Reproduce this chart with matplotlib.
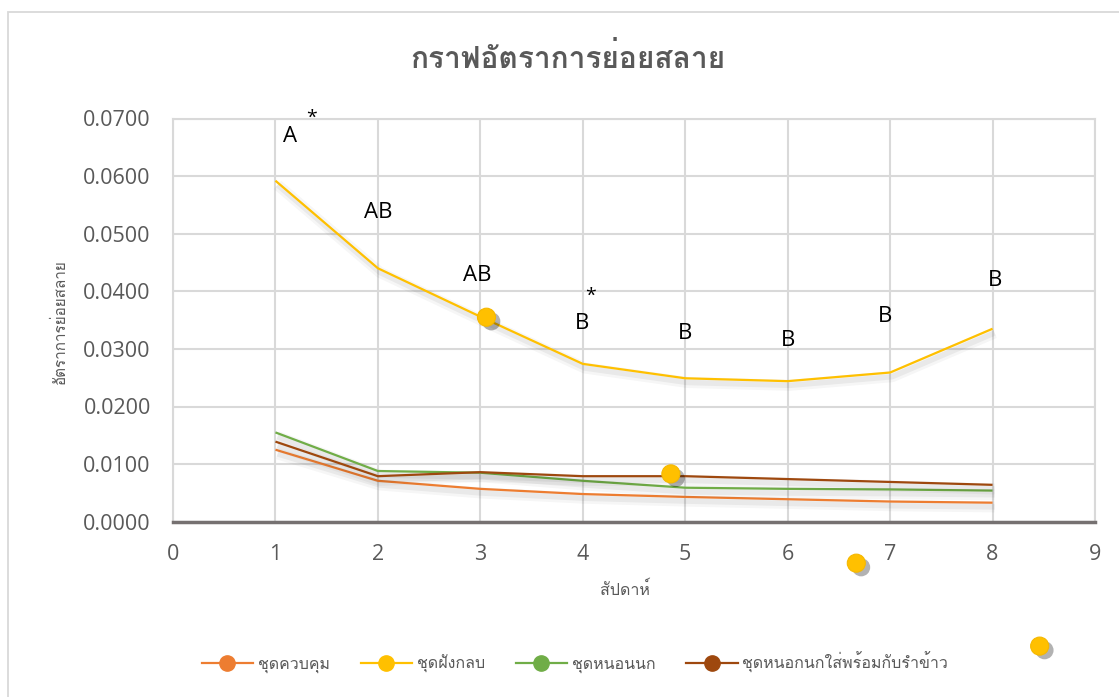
import matplotlib
matplotlib.use("Agg")
import matplotlib.pyplot as plt
import matplotlib.patheffects as pe
from matplotlib import font_manager
from matplotlib.ft2font import FT2Font
from matplotlib.lines import Line2D
from matplotlib.patches import Rectangle


def find_thai_font():
    """Return the family name of an installed font that covers Thai."""
    preferred = []
    others = []
    for f in font_manager.fontManager.ttflist:
        try:
            cmap = FT2Font(f.fname).get_charmap()
        except Exception:
            continue
        if 0x0E01 in cmap and 0x0E2A in cmap:
            if "Thai" in f.name or "Sarabun" in f.name or "Loma" in f.name:
                preferred.append(f.name)
            else:
                others.append(f.name)
    for lst in (preferred, others):
        if lst:
            return lst[0]
    return "DejaVu Sans"


THAI = find_thai_font()
plt.rcParams["font.family"] = [THAI, "Open Sans", "DejaVu Sans"]
LATIN = ["Open Sans", THAI, "DejaVu Sans"]

# ---- data -------------------------------------------------------------
weeks = [1, 2, 3, 4, 5, 6, 7, 8]
control = [0.0125, 0.0071, 0.0057, 0.0048, 0.0043, 0.0039, 0.0035, 0.0033]
buried = [0.0592, 0.0440, 0.0356, 0.0274, 0.0249, 0.0244, 0.0259, 0.0335]
worms = [0.0155, 0.0088, 0.0085, 0.0071, 0.0059, 0.0057, 0.0056, 0.0054]
worms_bran = [0.0139, 0.0079, 0.0086, 0.0079, 0.0079, 0.0074, 0.0069, 0.0064]

series_names = ["ชุดควบคุม", "ชุดฝังกลบ", "ชุดหนอนนก", "ชุดหนอกนกใส่พร้อมกับรำข้าว"]
series_colors = ["#ED7D31", "#FFC000", "#70AD47", "#9E480E"]

# significance letters above the buried series
letter_x = [1.14, 2.0, 2.97, 3.99, 5.0, 6.0, 6.95, 8.02]
letter_y = [0.0668, 0.0536, 0.0428, 0.0344, 0.0326, 0.0314, 0.0356, 0.0418]
letters = ["A", "AB", "AB", "B", "B", "B", "B", "B"]
star_x = [1.35, 4.08]
star_y = [0.0701, 0.0392]

# loose marker dots of the buried series
dot_x = [3.06, 4.86, 6.67, 8.46]
dot_y = [0.0355, 0.0083, -0.0072, -0.0216]

xticks = list(range(0, 10))
yticks = [0.0, 0.01, 0.02, 0.03, 0.04, 0.05, 0.06, 0.07]

title = "กราฟอัตราการย่อยสลาย"
xlabel = "สัปดาห์"
ylabel = "อัตราการย่อยสลาย"

# ---- figure -----------------------------------------------------------
fig = plt.figure(figsize=(11.19, 6.97), dpi=100)
fig.patch.set_facecolor("white")

# chart frame
fig.patches.append(Rectangle((8 / 1119, -0.05), 1.2, 1 - 12 / 697 + 0.05,
                             transform=fig.transFigure, fill=False,
                             edgecolor="#D9D9D9", linewidth=1.3, zorder=0))

ax = fig.add_axes([173 / 1119, 1 - 521.7 / 697, (1095 - 173) / 1119,
                   (521.7 - 118.5) / 697])
ax.set_xlim(0, 9)
ax.set_ylim(0, 0.07)
ax.set_xticks(xticks)
ax.set_yticks(yticks)
ax.set_xticklabels([str(t) for t in xticks], family=LATIN)
ax.set_yticklabels([f"{t:.4f}" for t in yticks], family=LATIN)
ax.tick_params(axis="both", length=0, labelsize=15.5, colors="#595959")
ax.tick_params(axis="x", pad=16)
ax.tick_params(axis="y", pad=16)
ax.grid(True, color="#D9D9D9", linewidth=1.5)
ax.set_axisbelow(True)
for side in ("left", "top", "right"):
    ax.spines[side].set_color("#D9D9D9")
    ax.spines[side].set_linewidth(1.5)
ax.spines["bottom"].set_color("#767171")
ax.spines["bottom"].set_linewidth(2.5)
ax.spines["bottom"].set_zorder(5)

shadow = [pe.SimpleLineShadow(offset=(1.5, -3), shadow_color="black",
                              alpha=0.035, linewidth=8),
          pe.SimpleLineShadow(offset=(1.5, -3), shadow_color="black",
                              alpha=0.05, linewidth=4),
          pe.Normal()]

for ys, c in zip([control, buried, worms, worms_bran], series_colors):
    ax.plot(weeks, ys, color=c, linewidth=1.6, solid_capstyle="butt",
            path_effects=shadow, zorder=3)

dot_shadow = [pe.SimplePatchShadow(offset=(3.5, -3), shadow_rgbFace="black",
                                   alpha=0.3),
              pe.Normal()]
ax.plot(dot_x, dot_y, linestyle="none", marker="o", markersize=13,
        markerfacecolor="#FFC000", markeredgecolor="#F5B800",
        markeredgewidth=0.8, clip_on=False, path_effects=dot_shadow, zorder=6)

for x, y, s in zip(letter_x, letter_y, letters):
    ax.text(x, y, s, ha="center", va="center", fontsize=16, color="black",
            family=LATIN)
for x, y in zip(star_x, star_y):
    ax.text(x, y, "*", ha="center", va="center", fontsize=14, color="black",
            family=LATIN)

fig.text(568 / 1119, 1 - 58 / 697, title, ha="center", va="center",
         fontsize=21.5, fontweight="bold", color="#595959")
fig.text(625 / 1119, 1 - 590 / 697, xlabel, ha="center", va="center",
         fontsize=11.5, color="#595959")
fig.text(60 / 1119, 1 - 322 / 697, ylabel, ha="center", va="center",
         rotation=90, fontsize=11, color="#595959")

handles = [Line2D([], [], color=c, linewidth=1.6, marker="o", markersize=11,
                  markerfacecolor=c, markeredgecolor=c)
           for c in series_colors]
fig.legend(handles, series_names, loc="center", ncol=4,
           bbox_to_anchor=(575 / 1119, 1 - 662 / 697), frameon=False,
           fontsize=11.5, labelcolor="#595959", handlelength=3.2,
           handletextpad=0.3, columnspacing=1.95)

fig.savefig("out.png", dpi=100, facecolor="white")
